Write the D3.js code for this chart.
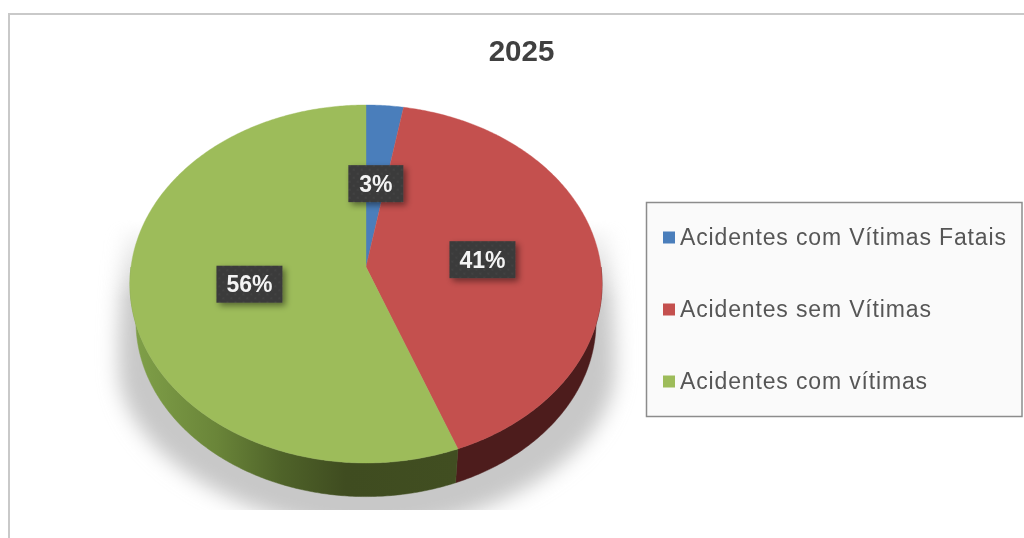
<!DOCTYPE html>
<html><head><meta charset="utf-8">
<script src="https://cdn.jsdelivr.net/npm/d3@7/dist/d3.min.js"></script>
<style>html,body{margin:0;padding:0;background:#fff;overflow:hidden}svg{display:block;filter:blur(.5px)}</style>
</head><body><div id="c"></div>
<script>
const chartTitle = "2025";
const categories = ["Acidentes com Vítimas Fatais","Acidentes sem Vítimas","Acidentes com vítimas"];
const values = [2.8, 41.4, 55.8];
const colors = ["#4a7ebb","#c4504e","#9dbc5a"];
const wallColors = ["#2b4a70","#4d1c1c","url(#wallGreen)"];

const W=1024,H=538;
const svg=d3.select("#c").append("svg").attr("width",W).attr("height",H);
const defs=svg.append("defs");
const font="'Liberation Sans',Arial,sans-serif";

// frame
svg.append("path").attr("d",`M9,${H}V14H${W}`).attr("fill","none").attr("stroke","#c9c9c9").attr("stroke-width",2);

const color=d3.scaleOrdinal(categories,colors);
const wall=d3.scaleOrdinal(categories,wallColors);
const total=d3.sum(values);
const pie=d3.pie().sort(null).value(d=>d.v)(categories.map((c,i)=>({c,v:values[i]})));

// perspective projection of the pie disc
const cx=366, cy=284, C=-0.095;
function proj(x,y,rx,ry,off,oy){
  const d=1+C*y;
  return [cx+rx*x/d, cy+oy+(ry*y+off)/d];
}
const topPt=(r,a)=>proj(r*Math.sin(a),-r*Math.cos(a),235,179,-17,0);
const botPt=(r,a)=>proj(r*Math.sin(a),-r*Math.cos(a),229,175,-17,38);
const pathLine=d3.line();
function samples(a0,a1){const n=Math.max(2,Math.ceil((a1-a0)/0.01));return d3.range(n+1).map(i=>a0+(a1-a0)*i/n);}

// shadow
const blur=defs.append("filter").attr("id","b").attr("x","-20%").attr("y","-20%").attr("width","140%").attr("height","140%");
blur.append("feGaussianBlur").attr("stdDeviation",10);
defs.append("clipPath").attr("id","sc").append("rect").attr("x",0).attr("y",0).attr("width",W).attr("height",510);
const fadeG=defs.append("linearGradient").attr("id","sf").attr("x1",0).attr("y1",0).attr("x2",0).attr("y2",1);
fadeG.append("stop").attr("offset",0).attr("stop-color","#fff").attr("stop-opacity",0);
fadeG.append("stop").attr("offset",.25).attr("stop-color","#fff").attr("stop-opacity",1);
const maskEl=defs.append("mask").attr("id","sm").attr("maskUnits","userSpaceOnUse").attr("x",0).attr("y",0).attr("width",W).attr("height",H);
maskEl.append("rect").attr("x",0).attr("y",220).attr("width",W).attr("height",H-220).attr("fill","url(#sf)");
svg.append("g").attr("clip-path","url(#sc)").attr("mask","url(#sm)")
  .append("path").attr("filter","url(#b)").attr("fill","#c8c8c8")
  .attr("d","M128,220 C120,300 116,350 120,385 C140,470 265,528 366,532 C475,528 596,470 614,385 C618,350 612,300 606,220 Z");

// wall gradient
const g=defs.append("linearGradient").attr("id","wallGreen").attr("gradientUnits","userSpaceOnUse")
  .attr("x1",136).attr("x2",458).attr("y1",0).attr("y2",0);
[[0,"#7f9f48"],[.25,"#6a8539"],[.45,"#4f6329"],[.65,"#3f4c20"],[1,"#414e21"]].forEach(s=>g.append("stop").attr("offset",s[0]).attr("stop-color",s[1]));

// side walls (front half only)
const pts=pie.map(p=>{
  const a0=Math.max(p.startAngle,Math.PI/2), a1=Math.min(p.endAngle,3*Math.PI/2);
  return {p,a0,a1};
}).filter(d=>d.a1>d.a0);
svg.append("g").selectAll("path").data(pts).join("path")
  .attr("d",d=>{
    const s=samples(d.a0,d.a1);
    return pathLine([...s.map(a=>topPt(1,a)),...s.slice().reverse().map(a=>botPt(1,a))])+"Z";
  })
  .attr("fill",d=>wall(d.p.data.c)).attr("stroke",d=>wall(d.p.data.c)).attr("stroke-width",.5);

// top slices
const vertex=topPt(0,0);
svg.append("g").selectAll("path").data(pie).join("path")
  .attr("d",p=>pathLine([vertex,...samples(p.startAngle,p.endAngle).map(a=>topPt(1,a))])+"Z")
  .attr("fill",p=>color(p.data.c)).attr("stroke",p=>color(p.data.c)).attr("stroke-width",.4);

// title
svg.append("text").text(chartTitle).attr("x",521.5).attr("y",61).attr("text-anchor","middle")
  .attr("font-family",font).attr("font-weight","bold").attr("font-size",29.5).attr("fill","#404040");

// data labels
const dots=defs.append("pattern").attr("id","dots").attr("patternUnits","userSpaceOnUse").attr("width",8).attr("height",8);
dots.append("rect").attr("width",8).attr("height",8).attr("fill","#3b3b3b");
dots.append("circle").attr("cx",2).attr("cy",2).attr("r",.7).attr("fill","#4d4d4d");
dots.append("circle").attr("cx",6).attr("cy",6).attr("r",.7).attr("fill","#4d4d4d");
const ds=defs.append("filter").attr("id","ds").attr("x","-30%").attr("y","-30%").attr("width","170%").attr("height","170%");
ds.append("feDropShadow").attr("dx",3).attr("dy",3).attr("stdDeviation",3).attr("flood-color","#000").attr("flood-opacity",.45);
const fmt=d=>d3.format(".0f")(d/total*100)+"%";
const boxW=d=>fmt(d.data.v).length===2?55:66;
const lab=svg.append("g").selectAll("g").data(pie).join("g")
  .attr("transform",p=>{const q=topPt(.5,(p.startAngle+p.endAngle)/2);return `translate(${q[0]},${q[1]+1})`;});
lab.append("rect").attr("x",d=>-boxW(d)/2).attr("y",-18.5).attr("width",boxW).attr("height",37)
  .attr("fill","url(#dots)").attr("filter","url(#ds)");
lab.append("text").text(d=>fmt(d.data.v)).attr("text-anchor","middle").attr("y",8)
  .attr("font-family",font).attr("font-weight","bold").attr("font-size",23).attr("fill","#f4f4f4");

// legend
const lg=svg.append("g");
lg.append("rect").attr("x",646.5).attr("y",202.5).attr("width",375.5).attr("height",214)
  .attr("fill","#fafafa").attr("stroke","#8c8c8c").attr("stroke-width",1.5);
const ly=d3.scalePoint(categories,[237,381]);
const it=lg.selectAll("g").data(categories).join("g").attr("transform",d=>`translate(663,${ly(d)})`);
it.append("rect").attr("x",0).attr("y",-5.5).attr("width",12).attr("height",12).attr("fill",d=>color(d));
it.append("text").text(d=>d).attr("x",17).attr("y",7.5)
  .attr("font-family",font).attr("font-size",23).attr("letter-spacing",.85).attr("fill","#565656");
</script></body></html>
